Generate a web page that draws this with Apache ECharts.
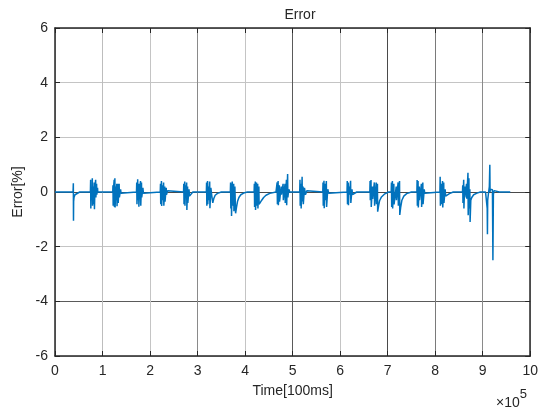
<!DOCTYPE html>
<html>
<head>
<meta charset="utf-8">
<script src="https://cdn.jsdelivr.net/npm/echarts@6/dist/echarts.min.js"></script>
<style>html,body{margin:0;padding:0;background:#fff}#c{width:541px;height:408px}</style>
</head>
<body>
<div id="c"></div>
<script>
// Time[100ms] and Error[%] samples, burst by burst
const start = [[0, 0]];
const burst1 = [[38000,0],[38600,0.32],[38900,-1.05],[39200,-0.35],[40000,-0.2],[42000,-0.1],[46000,-0.04],[52000,0]];
const burst2 = [[74500,0],[75000,0.45],[75400,-0.6],[76000,0.1],[77500,0.15],[78000,-0.3],[78500,0.5],[79000,-0.5],[80500,0.2],[81000,-0.45],[82500,0.35],[83000,-0.63],[84000,0.1],[85500,0.45],[86000,-0.2],[87500,0.3],[88000,-0.1],[89500,0.15],[90000,0]];
const burst3 = [[121500,0],[122000,0.25],[122400,-0.5],[123000,0.1],[124500,0.45],[125000,-0.55],[126000,0.5],[126500,-0.57],[128000,0.2],[128500,-0.3],[130000,0.3],[130500,-0.52],[132500,0.3],[133000,-0.4],[135000,0.3],[135500,-0.2],[138000,0.1],[139000,-0.05],[142000,0]];
const burst4 = [[171500,0],[172000,0.35],[172500,-0.45],[174000,0.47],[174500,-0.3],[176000,0.3],[176500,-0.54],[178000,0.1],[180000,0.4],[180500,-0.5],[182000,0.35],[182500,-0.2],[185000,0.15],[186000,-0.05],[189000,0]];
const burst5 = [[221500,0],[222000,0.3],[222500,-0.45],[224000,0.4],[224500,-0.51],[226000,0.25],[226500,-0.3],[228500,0.35],[229000,-0.5],[231000,0.2],[231500,-0.35],[234000,0.15],[234500,-0.1],[237000,0.05],[240000,0]];
const burst6 = [[270500,0],[271000,0.3],[271500,-0.45],[273000,0.38],[273500,-0.5],[275000,0.25],[275500,-0.2],[277000,0.35],[277500,-0.66],[279000,0.2],[279500,-0.4],[282000,0.1],[283000,-0.15],[285000,-0.08],[290000,0]];
const burst7 = [[318500,0],[319000,0.35],[319500,-0.5],[321000,0.4],[321500,-0.45],[323000,0.2],[323500,-0.3],[325500,0.38],[326000,-0.59],[328000,0.15],[330000,-0.15],[332000,-0.4],[334000,-0.25],[337000,-0.12],[342000,-0.05],[350000,0]];
const burst8 = [[369000,0],[369500,0.35],[370000,-0.6],[371000,0.3],[371500,-0.88],[373000,0.38],[373500,-0.5],[376000,0.3],[376500,-0.7],[378500,0.2],[380000,-0.78],[382000,-0.55],[384000,-0.35],[387000,-0.2],[391000,-0.1],[397000,-0.04],[405000,0]];
const burst9 = [[419000,0],[419500,0.3],[420000,-0.55],[421500,0.38],[422000,-0.66],[424000,0.35],[424500,-0.5],[426500,0.3],[427000,-0.6],[429000,0.2],[429500,-0.45],[432000,-0.42],[435000,-0.3],[439000,-0.2],[444000,-0.12],[452000,-0.05],[465000,0]];
const burst10 = [[467000,0],[467500,0.35],[468000,-0.45],[469500,0.4],[470000,-0.48],[472000,0.25],[472500,-0.35],[476000,0.2],[476500,-0.1],[480000,0.3],[480500,-0.3],[484000,0.3],[484500,-0.4],[487000,0.45],[487500,-0.48],[489500,0.66],[490000,-0.2],[492000,0.1],[494000,0]];
const burst11 = [[515000,0],[515500,0.45],[516000,-0.5],[517500,0.3],[518000,-0.6],[520000,0.56],[520500,-0.35],[522000,0.2],[522500,-0.45],[525000,0.15],[527000,-0.1],[530000,0.05],[532000,0]];
const burst12 = [[563500,0],[564000,0.35],[564500,-0.5],[566000,0.41],[566500,-0.59],[568500,0.3],[569000,-0.3],[571000,0.4],[571500,-0.55],[574000,0.1],[576000,-0.05],[580000,0]];
const burst13 = [[614500,0],[615000,0.4],[615500,-0.45],[617000,0.35],[617500,-0.48],[619000,0.2],[619500,-0.1],[622000,0.41],[622500,-0.4],[625000,0.1],[626000,-0.1],[630000,-0.05],[635000,0]];
const burst14 = [[662500,0],[663000,0.4],[663500,-0.3],[665000,0.44],[665500,-0.55],[668000,0.2],[668500,-0.25],[672000,0.35],[672500,-0.5],[676000,0.35],[676500,-0.45],[678500,0.3],[679000,-0.72],[681000,-0.5],[683000,-0.32],[687000,-0.18],[693000,-0.08],[702000,0]];
const burst15 = [[707500,0],[708000,0.35],[708500,-0.55],[710000,0.4],[710500,-0.6],[713000,0.3],[713500,-0.45],[718000,0.2],[718500,-0.3],[722000,0.35],[722500,-0.5],[725000,0.4],[725500,-0.84],[727500,-0.55],[730000,-0.3],[734000,-0.15],[740000,-0.06],[750000,0]];
const burst16 = [[761500,0],[762000,0.44],[762500,-0.5],[764000,0.4],[764500,-0.57],[766500,0.2],[767000,-0.3],[771000,0.3],[771500,-0.55],[774000,0.35],[774500,-0.45],[777000,0.1],[778000,-0.05],[782000,0]];
const burst17 = [[810000,0],[810500,0.56],[811000,-0.5],[812500,0.3],[813000,-0.45],[815500,0.4],[816000,-0.57],[818000,0.35],[818500,-0.4],[821000,0.1],[822000,-0.15],[825000,-0.12],[830000,-0.06],[838000,0]];
const burst18 = [[857500,0],[858000,0.25],[858500,-0.4],[860000,0.45],[860500,-0.6],[862000,0.2],[862500,-0.2],[866000,0.3],[866500,-0.25],[869000,0.7],[869500,-0.85],[871000,0.5],[871500,-0.6],[873000,0.1],[873500,-1.1],[875000,-0.3],[877000,-0.2],[881000,-0.1],[888000,-0.04],[895000,0]];
const burst19 = [[906000,0],[907500,-0.05],[909500,-0.6],[910000,-1.55],[910500,-0.3],[912500,0],[914000,0.2],[915000,1.0],[915500,0],[916000,0.1],[918500,0.12],[920500,0.08],[921500,-2.5],[922500,-0.1],[924000,0.05],[926000,0.06],[928000,-0.02],[935000,0],[958000,0]];

const xTicks = [0,1,2,3,4,5,6,7,8,9,10];
const yTicks = [-6,-4,-2,0,2,4,6];

const errorData = [].concat(start, burst1, burst2, burst3, burst4, burst5, burst6, burst7, burst8, burst9, burst10,
  burst11, burst12, burst13, burst14, burst15, burst16, burst17, burst18, burst19);

const FONT = '"Liberation Sans", Arial, sans-serif';
const TXT = '#262626';
const vGridColors = ['#bdbdbd','#bdbdbd','#c4c4c4','#8a8a8a','#c4c4c4','#5a5a5a','#c4c4c4','#4a4a4a','#7a7a7a','#8a8a8a','#bdbdbd'];
const hGridColors = ['#bdbdbd','#5a5a5a','#c4c4c4','#4a4a4a','#c4c4c4','#c4c4c4','#bdbdbd'];

const chart = echarts.init(document.getElementById('c'), null, {renderer: 'canvas'});
const axisCommonLine = {show: true, onZero: false, lineStyle: {color: TXT, width: 1.5}};
chart.setOption({
  animation: false,
  backgroundColor: '#fff',
  title: {
    text: 'Error', left: 295, top: 3, textAlign: 'center',
    textStyle: {fontFamily: FONT, fontSize: 14, fontWeight: 'normal', color: TXT}
  },
  grid: {left: 55, right: 6, top: 28, bottom: 52, containLabel: false},
  xAxis: [{
    type: 'value', min: 0, max: 1000000, interval: 100000,
    name: 'Time[100ms]', nameLocation: 'middle', nameGap: 28,
    nameTextStyle: {fontFamily: FONT, fontSize: 14, color: TXT},
    axisLine: axisCommonLine,
    axisTick: {show: true, inside: true, length: 5, lineStyle: {color: TXT, width: 1}},
    axisLabel: {fontFamily: FONT, fontSize: 14, color: TXT, margin: 8,
      formatter: v => String(xTicks[Math.round(v / 100000)])},
    splitLine: {show: true, lineStyle: {color: vGridColors, width: 1}}
  }, {
    type: 'value', position: 'top', min: 0, max: 1000000, interval: 100000,
    axisLine: axisCommonLine,
    axisTick: {show: true, inside: true, length: 5, lineStyle: {color: TXT, width: 1}},
    axisLabel: {show: false}, splitLine: {show: false}
  }],
  yAxis: [{
    type: 'value', min: -6, max: 6, interval: 2,
    name: 'Error[%]', nameLocation: 'middle', nameGap: 30,
    nameTextStyle: {fontFamily: FONT, fontSize: 14, color: TXT},
    axisLine: axisCommonLine,
    axisTick: {show: true, inside: true, length: 5, lineStyle: {color: TXT, width: 1}},
    axisLabel: {fontFamily: FONT, fontSize: 14, color: TXT, margin: 7,
      formatter: v => String(yTicks.find(t => t === v) ?? v)},
    splitLine: {show: true, lineStyle: {color: hGridColors, width: 1}}
  }, {
    type: 'value', position: 'right', min: -6, max: 6, interval: 2,
    axisLine: axisCommonLine,
    axisTick: {show: true, inside: true, length: 5, lineStyle: {color: TXT, width: 1}},
    axisLabel: {show: false}, splitLine: {show: false}
  }],
  graphic: [{
    type: 'text', left: 496, top: 388,
    style: {
      text: '{a|×10}{b|5}',
      rich: {
        a: {fontFamily: FONT, fontSize: 14, fill: TXT, verticalAlign: 'bottom', padding: [8,0,0,0]},
        b: {fontFamily: FONT, fontSize: 13, fill: TXT, verticalAlign: 'top'}
      }
    }
  }],
  series: [{
    type: 'line', xAxisIndex: 0, yAxisIndex: 0,
    data: errorData, showSymbol: false, symbol: 'none',
    lineStyle: {color: '#0072BD', width: 1.5},
    z: 5
  }]
});
</script>
</body>
</html>
